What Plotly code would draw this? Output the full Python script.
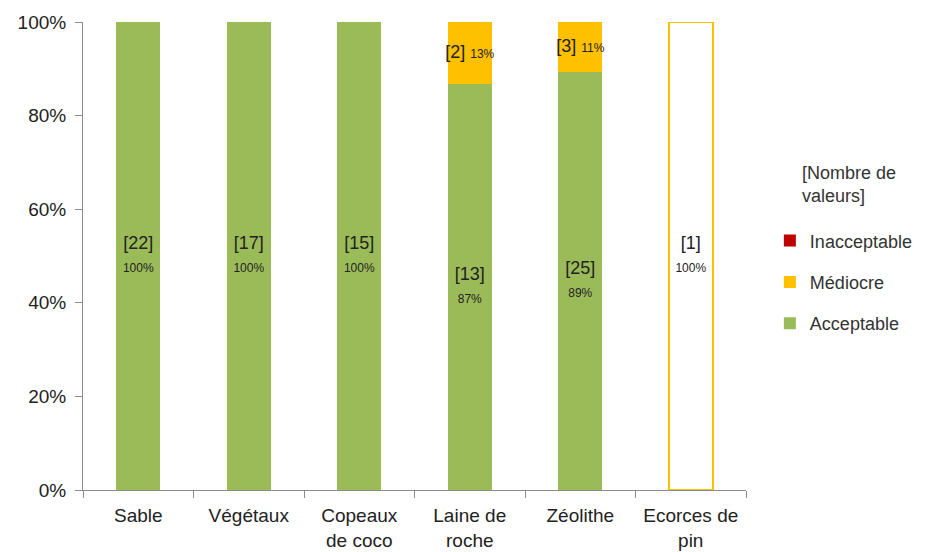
import plotly.graph_objects as go

# Substrates and count of values per quality class
categories = ["Sable", "Végétaux", "Copeaux<br>de coco", "Laine de<br>roche", "Zéolithe", "Ecorces de<br>pin"]
acceptable = [22, 17, 15, 13, 25, 0]
mediocre = [0, 0, 0, 2, 3, 1]
inacceptable = [0, 0, 0, 0, 0, 0]

GREEN = "#9BBB59"
ORANGE = "#FFC000"
RED = "#C00000"
TEXT = "#222222"
FONT = "Liberation Sans, Arial, sans-serif"

totals = [a + m + i for a, m, i in zip(acceptable, mediocre, inacceptable)]
share_acc = [a / t for a, t in zip(acceptable, totals)]
share_med = [m / t for m, t in zip(mediocre, totals)]
share_ina = [i / t for i, t in zip(inacceptable, totals)]

fig = go.Figure()

fig.add_trace(go.Bar(
    x=categories, y=share_acc, name="Acceptable", legendgroup="acc", legendrank=3,
    marker=dict(color=GREEN, line=dict(width=0)), width=0.4,
    hoverinfo="skip", textposition="none",
))

# The pine bark bar has a single médiocre value: drawn as an outlined bar
med_fill = [ORANGE if a > 0 else "white" for a in acceptable]
med_line_w = [0 if a > 0 else 2 for a in acceptable]
fig.add_trace(go.Bar(
    x=categories, y=share_med, name="Médiocre", legendgroup="med", legendrank=2,
    marker=dict(color=med_fill, line=dict(color=ORANGE, width=med_line_w)), width=0.4,
    hoverinfo="skip", textposition="none",
))
fig.add_trace(go.Bar(
    x=categories, y=share_ina, name="Inacceptable", legendgroup="ina", legendrank=1,
    marker=dict(color=RED, line=dict(width=0)), width=0.4,
    hoverinfo="skip", textposition="none",
))

# Segment labels: count in brackets and share, centred in each segment
small = f"font-size:12px;color:{TEXT}"
lab_x, lab_y, lab_t = [], [], []
for c, a, m, sa, sm in zip(categories, acceptable, mediocre, share_acc, share_med):
    if a > 0:
        lab_x.append(c)
        lab_y.append(sa / 2)
        lab_t.append(f"[{a}]<br><span style='{small}'>{sa:.0%}</span>")
    if m > 0:
        lab_x.append(c)
        lab_y.append(sa + sm / 2)
        if a > 0:
            lab_t.append(f"[{m}] <span style='{small}'>{sm:.0%}</span>")
        else:
            lab_t.append(f"[{m}]<br><span style='{small}'>{sm:.0%}</span>")

fig.add_trace(go.Scatter(
    x=lab_x, y=lab_y, text=lab_t, mode="text",
    textfont=dict(family=FONT, size=18, color=TEXT),
    showlegend=False, hoverinfo="skip",
))

fig.add_annotation(
    text="[Nombre de<br>valeurs]", xref="paper", yref="paper",
    x=1.081, y=0.703, xanchor="left", yanchor="top", align="left",
    showarrow=False, font=dict(family=FONT, size=18, color="#333333"),
)

fig.update_layout(
    width=930, height=552,
    margin=dict(l=83, r=180, t=22, b=62),
    paper_bgcolor="white", plot_bgcolor="white",
    barmode="stack",
    font=dict(family=FONT, size=19, color=TEXT),
    showlegend=True,
    legend=dict(
        x=1.036, y=0.572, xanchor="left", yanchor="top",
        traceorder="grouped", tracegroupgap=15,
        font=dict(size=18, family=FONT, color="#333333"),
        itemwidth=30,
    ),
    xaxis=dict(
        showline=True, linecolor="#8C8C8C", linewidth=1,
        ticks="outside", tickson="boundaries", ticklen=7, tickcolor="#8C8C8C",
        tickfont=dict(size=19, family=FONT, color=TEXT),
        ticklabelstandoff=8, automargin=False,
        showgrid=False,
    ),
    yaxis=dict(
        range=[0, 1], dtick=0.2, tickformat=".0%",
        showline=True, linecolor="#8C8C8C", linewidth=1,
        ticks="outside", ticklen=7, tickcolor="#8C8C8C",
        tickfont=dict(size=19, family=FONT, color=TEXT),
        ticklabelstandoff=5, automargin=False,
        showgrid=False, zeroline=False,
    ),
)

fig.write_html("out.html")
